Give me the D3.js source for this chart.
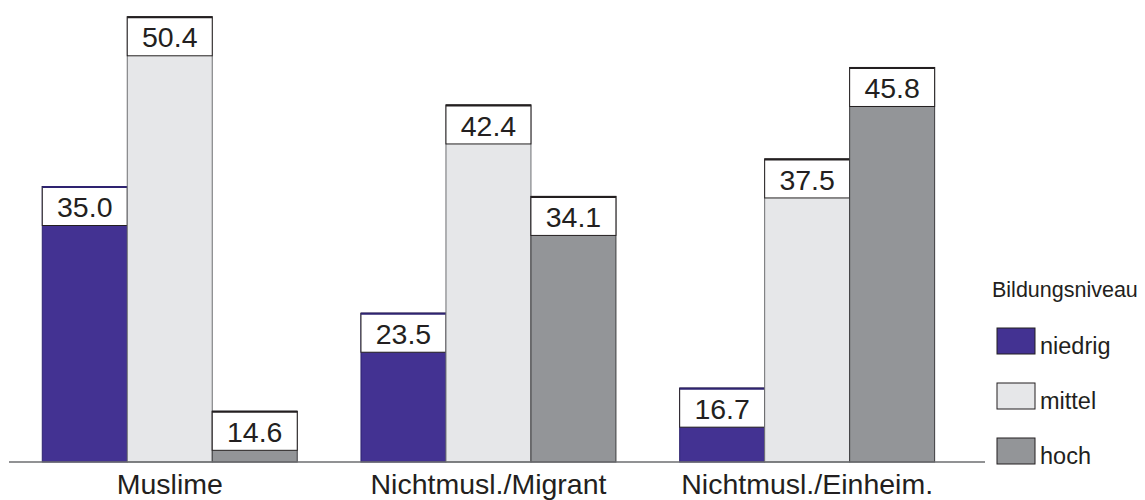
<!DOCTYPE html>
<html><head><meta charset="utf-8">
<script src="https://cdn.jsdelivr.net/npm/d3@7"></script>
<style>body{margin:0;background:#fff}svg{display:block}text{font-family:"Liberation Sans",Arial,sans-serif;fill:#231f20}</style>
</head><body>
<svg id="c" width="1145" height="500"></svg>
<script>
const categories = ["Muslime", "Nichtmusl./Migrant", "Nichtmusl./Einheim."];
const seriesNames = ["niedrig", "mittel", "hoch"];
const niedrig = [35.0, 23.5, 16.7];
const mittel = [50.4, 42.4, 37.5];
const hoch = [14.6, 34.1, 45.8];
const legendTitle = "Bildungsniveau";

const seriesValues = [niedrig, mittel, hoch];
const fills = ["#433292", "#e6e7e9", "#939598"];
const edges = ["#2e2370", "#6d6e71", "#3c3c3e"];

const svg = d3.select("#c");
const baseY = 462;
const y = d3.scaleLinear().domain([10, 50]).range([baseY, baseY - 40 * 11.02]);
const x0 = d3.scaleBand().domain(categories).range([10.4, 966.5]).paddingInner(0.2).paddingOuter(0.1);
const x1 = d3.scaleBand().domain(seriesNames).range([0, x0.bandwidth()]);

const data = [];
categories.forEach((c, i) => seriesNames.forEach((s, j) => data.push({c, s, j, v: seriesValues[j][i]})));

const boxH = 39;
const g = svg.append("g");
const bars = g.selectAll("g.bar").data(data).join("g").attr("class", "bar")
  .attr("transform", d => `translate(${x0(d.c) + x1(d.s)},0)`);
bars.append("rect")
  .attr("x", 0).attr("y", d => y(d.v)).attr("width", x1.bandwidth())
  .attr("height", d => baseY - y(d.v))
  .attr("fill", d => fills[d.j]).attr("stroke", d => edges[d.j]).attr("stroke-width", 1);
bars.append("rect")
  .attr("x", 0).attr("y", d => y(d.v)).attr("width", x1.bandwidth()).attr("height", boxH)
  .attr("fill", "#fff").attr("stroke", "#231f20").attr("stroke-width", 1);
bars.append("line")
  .attr("x1", 0).attr("x2", x1.bandwidth()).attr("y1", d => y(d.v) + 0.5).attr("y2", d => y(d.v) + 0.5)
  .attr("stroke", d => d.j === 0 ? "#2e2370" : "#231f20").attr("stroke-width", 2);
bars.append("text")
  .attr("x", x1.bandwidth() / 2).attr("y", d => y(d.v) + 30.6)
  .attr("text-anchor", "middle").style("font-size", "28.5px")
  .text(d => d.v.toFixed(1));

// baseline
svg.append("line").attr("x1", 9).attr("x2", 985).attr("y1", baseY).attr("y2", baseY)
  .attr("stroke", "#6d6e71").attr("stroke-width", 1.5);

// category labels
const xAxis = d3.axisBottom(x0).tickSize(0).tickPadding(0);
const ax = svg.append("g").attr("transform", `translate(0,${baseY})`).call(xAxis);
ax.select(".domain").remove();
ax.selectAll("text").attr("dy", null).attr("y", 31.5).style("font-size", "28.5px")
  .attr("fill", "#231f20").style("font-family", '"Liberation Sans",Arial,sans-serif');

// legend
const lg = svg.append("g");
lg.append("text").attr("x", 992).attr("y", 297).style("font-size", "21.5px").text(legendTitle);
const li = lg.selectAll("g.li").data(seriesNames).join("g").attr("class", "li")
  .attr("transform", (d, i) => `translate(997,${328 + i * 55})`);
li.append("rect").attr("width", 38).attr("height", 26)
  .attr("fill", (d, i) => fills[i]).attr("stroke", "#231f20").attr("stroke-width", 1);
li.append("text").attr("x", 43).attr("y", 26).style("font-size", "23.5px").text(d => d);
</script>
</body></html>
